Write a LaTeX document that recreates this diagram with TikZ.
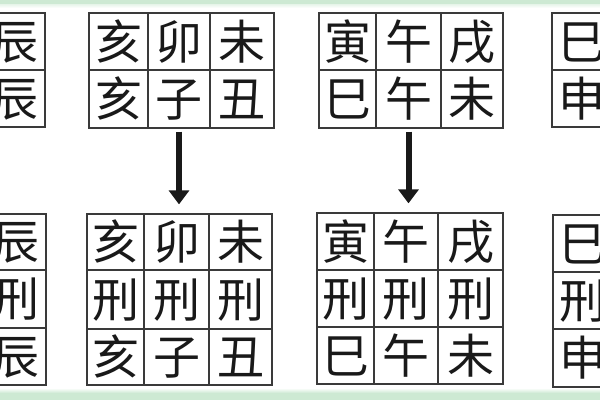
\documentclass[tikz,border=0pt]{standalone}
\usepackage{fontspec}
\newfontfamily\cjk{Noto Sans CJK SC}
\usetikzlibrary{arrows.meta}
\definecolor{gridline}{HTML}{3A3A3A}
\definecolor{bandgreen}{HTML}{CDE9D3}
\tikzset{
  cellbox/.style={draw=gridline, line width=1.3pt, inner sep=0pt,
    font=\cjk\fontsize{47}{47}\selectfont, text height=41.4pt, text depth=5.6pt, text=black!90},
  downarrow/.style={line width=6pt, -{Triangle[length=14pt,width=20pt]}, black!90}
}
\newcommand\cellbox[6]{\node[cellbox, minimum width=#4pt, minimum height=#5pt] (#1) at (#2,#3) {#6};}
\begin{document}
\begin{tikzpicture}[x=1pt,y=-1pt]
\useasboundingbox (0,0) rectangle (600,400);
\clip (0,0) rectangle (600,400);
\fill[white] (0,0) rectangle (600,400);
\shade[top color=bandgreen, bottom color=white] (0,0) rectangle (600,8);
\fill[bandgreen] (0,0) rectangle (600,4);
\shade[top color=white, bottom color=bandgreen] (0,388) rectangle (600,393);
\fill[bandgreen] (0,393) rectangle (600,400);
% top left partial
\cellbox{tla}{15}{41.5}{60}{57}{辰}
\cellbox{tlb}{15}{98.5}{60}{57}{辰}
% top grid 2
\cellbox{tba}{118.5}{41.5}{59}{57}{亥}
\cellbox{tbb}{179}{41.5}{62}{57}{卯}
\cellbox{tbc}{242}{41.5}{64}{57}{未}
\cellbox{tbd}{118.5}{99}{59}{58}{亥}
\cellbox{tbe}{179}{99}{62}{58}{子}
\cellbox{tbf}{242}{99}{64}{58}{丑}
% top grid 3
\cellbox{tca}{347.5}{41.5}{57}{57}{寅}
\cellbox{tcb}{408.5}{41.5}{65}{57}{午}
\cellbox{tcc}{472}{41.5}{62}{57}{戌}
\cellbox{tcd}{347.5}{99}{57}{58}{巳}
\cellbox{tce}{408.5}{99}{65}{58}{午}
\cellbox{tcf}{472}{99}{62}{58}{未}
% top right partial
\cellbox{tra}{582}{41.5}{60}{57}{巳}
\cellbox{trb}{582}{98.5}{60}{57}{申}
% bottom left partial
\cellbox{bla}{16}{242}{60}{56}{辰}
\cellbox{blb}{16}{299}{60}{58}{刑}
\cellbox{blc}{16}{356.5}{60}{57}{辰}
% bottom grid 2
\cellbox{bba}{115.5}{242}{57}{56}{亥}
\cellbox{bbb}{176.5}{242}{65}{56}{卯}
\cellbox{bbc}{240.5}{242}{63}{56}{未}
\cellbox{bbd}{115.5}{299.5}{57}{59}{刑}
\cellbox{bbe}{176.5}{299.5}{65}{59}{刑}
\cellbox{bbf}{240.5}{299.5}{63}{59}{刑}
\cellbox{bbg}{115.5}{357}{57}{56}{亥}
\cellbox{bbh}{176.5}{357}{65}{56}{子}
\cellbox{bbi}{240.5}{357}{63}{56}{丑}
% bottom grid 3
\cellbox{bca}{345.5}{241.5}{57}{57}{寅}
\cellbox{bcb}{406}{241.5}{64}{57}{午}
\cellbox{bcc}{470.5}{241.5}{65}{57}{戌}
\cellbox{bcd}{345.5}{298.5}{57}{57}{刑}
\cellbox{bce}{406}{298.5}{64}{57}{刑}
\cellbox{bcf}{470.5}{298.5}{65}{57}{刑}
\cellbox{bcg}{345.5}{355.5}{57}{57}{巳}
\cellbox{bch}{406}{355.5}{64}{57}{午}
\cellbox{bci}{470.5}{355.5}{65}{57}{未}
% bottom right partial
\cellbox{bra}{583}{243.5}{60}{57}{巳}
\cellbox{brb}{583}{300.5}{60}{57}{刑}
\cellbox{brc}{583}{358}{60}{58}{申}
% arrows
\draw[downarrow, shorten <=3pt, shorten >=9pt] (tbe.south) -- (tbe.south |- bbb.north);
\draw[downarrow, shorten <=3pt, shorten >=9pt] (tce.south) -- (tce.south |- bcb.north);
\end{tikzpicture}
\end{document}
